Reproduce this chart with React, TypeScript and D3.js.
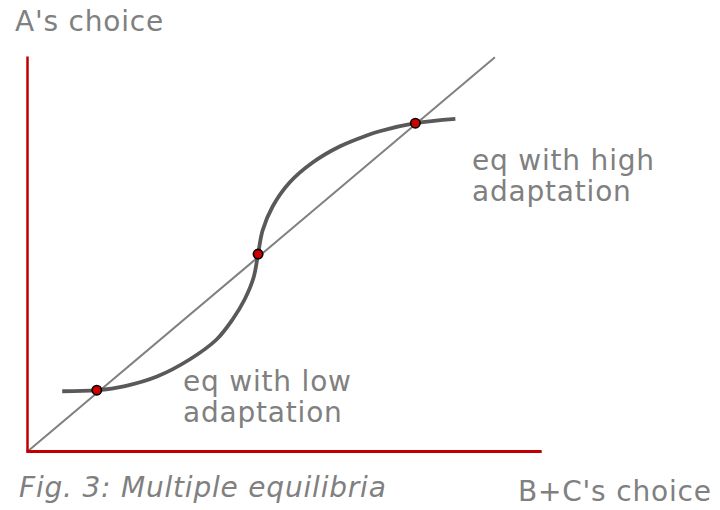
import React from "react";
import * as d3 from "d3";

const W = 720;
const H = 510;

// Reaction curve: B+C's choice (x) against A's choice (y)
const curveX = [6.75, 13.48, 18.96, 25.18, 31.52, 36.77, 39.88, 42.22, 43.97, 44.84, 45.72, 47.67, 50.97, 55.45, 60.7, 65.95, 68.48, 75.43, 83.21];
const curveY = [13.9, 14.14, 15.1, 17.3, 21.22, 25.83, 30.44, 35.05, 40.13, 45.54, 50.96, 56.5, 62.03, 66.64, 70.33, 72.87, 73.86, 75.71, 76.72];

// Equilibria where the curve crosses the 45-degree line
const eqX = [13.48, 44.84, 75.43];
const eqY = [14.14, 45.54, 75.71];

// Extents of the axes and of the 45-degree line
const xAxisMax = 100;
const yAxisMax = 91.1;
const diagonalMax = 90.9;

const FONT = "'DejaVu Sans', Verdana, sans-serif";
const TEXT = "#808080";

export default function App() {
  const x = d3.scaleLinear().domain([0, 100]).range([27.5, 541.7]);
  const y = d3.scaleLinear().domain([0, 100]).range([451.5, 17.9]);

  const pts: [number, number][] = curveX.map((v, i) => [v, curveY[i]]);
  const path = d3
    .line<[number, number]>()
    .x((d) => x(d[0]))
    .y((d) => y(d[1]))
    .curve(d3.curveCatmullRom.alpha(0.5))(pts) as string;

  return (
    <svg
      width={W}
      height={H}
      style={{ position: "absolute", left: 0, top: 0, background: "#fff" }}
    >
      {/* 45-degree line */}
      <line
        x1={x(0)}
        y1={y(0)}
        x2={x(diagonalMax)}
        y2={y(diagonalMax)}
        stroke="#808080"
        strokeWidth={2}
      />
      {/* axes */}
      <line x1={x(0)} y1={y(0)} x2={x(0)} y2={y(yAxisMax)} stroke="#c00000" strokeWidth={2.5} />
      <line x1={x(0) - 1.2} y1={y(0)} x2={x(xAxisMax)} y2={y(0)} stroke="#c00000" strokeWidth={3} />

      {/* reaction curve */}
      <path d={path} fill="none" stroke="#595959" strokeWidth={3.8} />

      {/* equilibria */}
      {eqX.map((v, i) => (
        <circle key={i} cx={x(v)} cy={y(eqY[i])} r={4.7} fill="#cc0000" stroke="#000" strokeWidth={1.6} />
      ))}

      <g fontFamily={FONT} fontSize={28} fill={TEXT} letterSpacing={0.8}>
        <text x={15} y={31}>A's choice</text>
        <text x={472} y={170}>eq with high</text>
        <text x={472} y={201}>adaptation</text>
        <text x={183} y={391}>eq with low</text>
        <text x={183} y={422}>adaptation</text>
        <text x={19} y={497} fontStyle="italic">Fig. 3: Multiple equilibria</text>
        <text x={518} y={501}>B+C's choice</text>
      </g>
    </svg>
  );
}
